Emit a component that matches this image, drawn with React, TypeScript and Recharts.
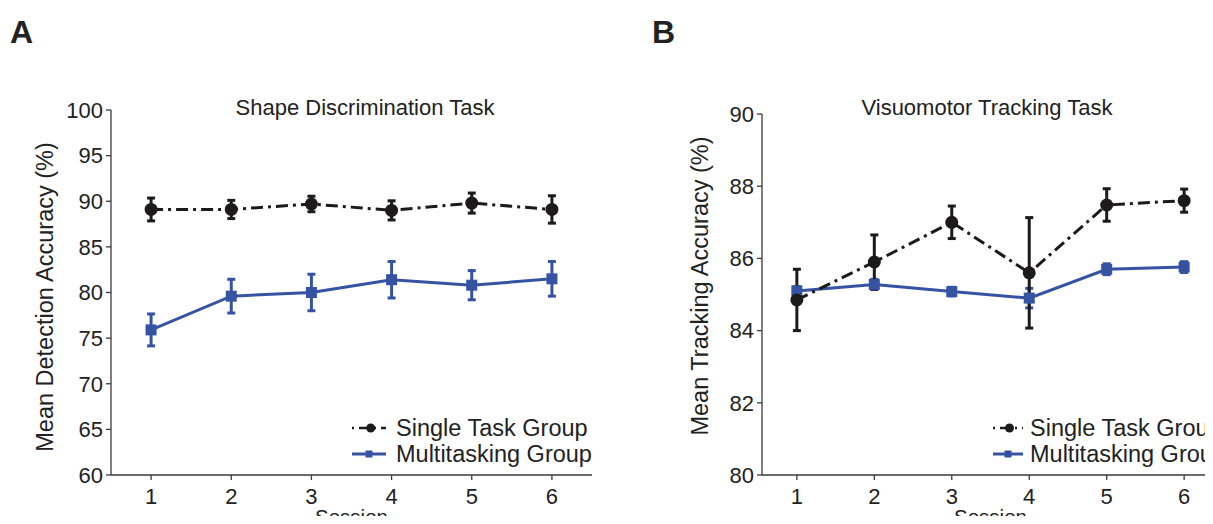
import React from 'react';
import { LineChart, Line, XAxis, YAxis, ErrorBar, Legend } from 'recharts';

// values
const sessions = [1, 2, 3, 4, 5, 6];

const shapeSingle = [89.1, 89.1, 89.7, 89.0, 89.8, 89.1];
const shapeSingleErr = [1.25, 1.0, 0.85, 1.05, 1.1, 1.5];
const shapeMulti = [75.9, 79.6, 80.0, 81.4, 80.8, 81.5];
const shapeMultiErr = [1.75, 1.85, 2.0, 2.0, 1.6, 1.9];

const trackSingle = [84.85, 85.9, 87.0, 85.6, 87.48, 87.6];
const trackSingleErr = [0.85, 0.75, 0.45, 1.53, 0.45, 0.32];
const trackMulti = [85.1, 85.28, 85.08, 84.9, 85.7, 85.76];
const trackMultiErr = [0.12, 0.14, 0.12, 0.27, 0.15, 0.15];

const shapeTicks = [60, 65, 70, 75, 80, 85, 90, 95, 100];
const trackTicks = [80, 82, 84, 86, 88, 90];

const BLACK = '#1c1a1b';
const BLUE = '#3653a3';
const AXIS = '#3a3a3a';
const FONT = '"Liberation Sans", Arial, Helvetica, sans-serif';

const buildRows = (single: number[], singleErr: number[], multi: number[], multiErr: number[]) =>
  sessions.map((s, i) => ({
    session: s,
    single: single[i],
    singleErr: singleErr[i],
    multi: multi[i],
    multiErr: multiErr[i],
  }));

const CircleDot = (props: any) => {
  const { cx, cy, index } = props;
  if (cx == null || cy == null) return <g key={`c-${index}`} />;
  return <circle key={`c-${index}`} cx={cx} cy={cy} r={6.5} fill={BLACK} />;
};

const SquareDot = (props: any) => {
  const { cx, cy, index } = props;
  if (cx == null || cy == null) return <g key={`s-${index}`} />;
  return <rect key={`s-${index}`} x={cx - 5.5} y={cy - 5.5} width={11} height={11} fill={BLUE} />;
};

const LegendBox = ({ gap, sample }: { gap: number; sample: number }) => (
  <div style={{ fontFamily: FONT, fontSize: 23.5, color: '#222', lineHeight: '26px', whiteSpace: 'nowrap' }}>
    <div style={{ display: 'flex', alignItems: 'center' }}>
      <svg width={sample} height={26} style={{ marginRight: gap }}>
        <line x1={0} y1={13} x2={sample} y2={13} stroke={BLACK} strokeWidth={2.5} strokeDasharray="2 5 10 5" />
        <circle cx={sample * 0.55} cy={13} r={4.5} fill={BLACK} />
      </svg>
      <span>Single Task Group</span>
    </div>
    <div style={{ display: 'flex', alignItems: 'center' }}>
      <svg width={sample} height={26} style={{ marginRight: gap }}>
        <line x1={0} y1={13} x2={sample} y2={13} stroke={BLUE} strokeWidth={3} />
        <rect x={sample / 2 - 3.5} y={9.5} width={7} height={7} fill={BLUE} />
      </svg>
      <span>Multitasking Group</span>
    </div>
  </div>
);

type PanelProps = {
  left: number;
  width: number;
  top: number;
  yWidth: number;
  rows: any[];
  domainY: [number, number];
  ticksY: number[];
  domainX: [number, number];
  yLabel: string;
  yLabelX: number;
  yLabelY: number;
  legendLeft: number;
  legendGap: number;
  legendSample: number;
};

const Panel = ({
  left, width, top, yWidth, rows, domainY, ticksY, domainX,
  yLabel, yLabelX, yLabelY, legendLeft, legendGap, legendSample,
}: PanelProps) => (
  <div style={{ position: 'absolute', left, top: 0 }}>
    <LineChart
      width={width}
      height={524}
      data={rows}
      margin={{ top, right: 10, bottom: 0, left: 0 }}
      style={{ fontFamily: FONT }}
    >
      <XAxis
        dataKey="session"
        type="number"
        domain={domainX}
        ticks={sessions}
        height={49}
        tickSize={5}
        tickMargin={8}
        axisLine={{ stroke: AXIS, strokeWidth: 1.3 }}
        tickLine={{ stroke: AXIS, strokeWidth: 1.3 }}
        tick={{ fill: '#222', fontSize: 22 }}
        label={(p: any) => {
          const vb = p.viewBox || {};
          return (
            <text x={vb.x + vb.width / 2} y={523.5} textAnchor="middle" fill="#222" fontSize={20.5} fontFamily={FONT}>
              Session
            </text>
          );
        }}
      />
      <YAxis
        type="number"
        domain={domainY}
        ticks={ticksY}
        width={yWidth}
        tickSize={5}
        tickMargin={3}
        axisLine={{ stroke: AXIS, strokeWidth: 1.3 }}
        tickLine={{ stroke: AXIS, strokeWidth: 1.3 }}
        tick={{ fill: '#222', fontSize: 22 }}
        label={() => (
          <text
            x={yLabelX + 8}
            y={yLabelY}
            transform={`rotate(-90, ${yLabelX + 8}, ${yLabelY})`}
            textAnchor="middle"
            fill="#222"
            fontSize={23.5}
            fontFamily={FONT}
          >
            {yLabel}
          </text>
        )}
      />
      <Legend
        layout="vertical"
        align="center"
        verticalAlign="middle"
        wrapperStyle={{ left: legendLeft, top: 415, width: 320 }}
        content={() => <LegendBox gap={legendGap} sample={legendSample} />}
      />
      <Line
        dataKey="multi"
        name="Multitasking Group"
        stroke={BLUE}
        strokeWidth={3}
        dot={SquareDot}
        activeDot={false}
        isAnimationActive={false}
      >
        <ErrorBar dataKey="multiErr" direction="y" width={4} stroke={BLUE} strokeWidth={3} />
      </Line>
      <Line
        dataKey="single"
        name="Single Task Group"
        stroke={BLACK}
        strokeWidth={3}
        strokeDasharray="12 5 3 5"
        dot={CircleDot}
        activeDot={false}
        isAnimationActive={false}
      >
        <ErrorBar dataKey="singleErr" direction="y" width={4} stroke={BLACK} strokeWidth={3} />
      </Line>
    </LineChart>
  </div>
);

const textBase: React.CSSProperties = {
  position: 'absolute',
  fontFamily: FONT,
  color: '#222',
  lineHeight: 1,
  whiteSpace: 'nowrap',
};

export default function App() {
  const shapeRows = buildRows(shapeSingle, shapeSingleErr, shapeMulti, shapeMultiErr);
  const trackRows = buildRows(trackSingle, trackSingleErr, trackMulti, trackMultiErr);

  return (
    <div
      style={{
        position: 'relative',
        width: 1213,
        height: 524,
        margin: -8,
        overflow: 'hidden',
        background: '#fff',
      }}
    >
      <Panel
        left={0}
        width={602}
        top={110}
        yWidth={111}
        rows={shapeRows}
        domainY={[60, 100]}
        ticksY={shapeTicks}
        domainX={[0.5, 6.5]}
        yLabel="Mean Detection Accuracy (%)"
        yLabelX={45}
        yLabelY={297}
        legendLeft={352}
        legendGap={10}
        legendSample={34}
      />
      <Panel
        left={640}
        width={589}
        top={114}
        yWidth={122}
        rows={trackRows}
        domainY={[80, 90]}
        ticksY={trackTicks}
        domainX={[0.55, 6.45]}
        yLabel="Mean Tracking Accuracy (%)"
        yLabelX={60}
        yLabelY={286}
        legendLeft={353}
        legendGap={7}
        legendSample={30}
      />
      <div style={{ ...textBase, left: 10, top: 16, fontSize: 32, fontWeight: 'bold' }}>A</div>
      <div style={{ ...textBase, left: 652, top: 16, fontSize: 32, fontWeight: 'bold' }}>B</div>
      <div style={{ ...textBase, left: 365, top: 97, fontSize: 22, transform: 'translateX(-50%)' }}>
        Shape Discrimination Task
      </div>
      <div style={{ ...textBase, left: 987, top: 97, fontSize: 22, transform: 'translateX(-50%)' }}>
        Visuomotor Tracking Task
      </div>
    </div>
  );
}
